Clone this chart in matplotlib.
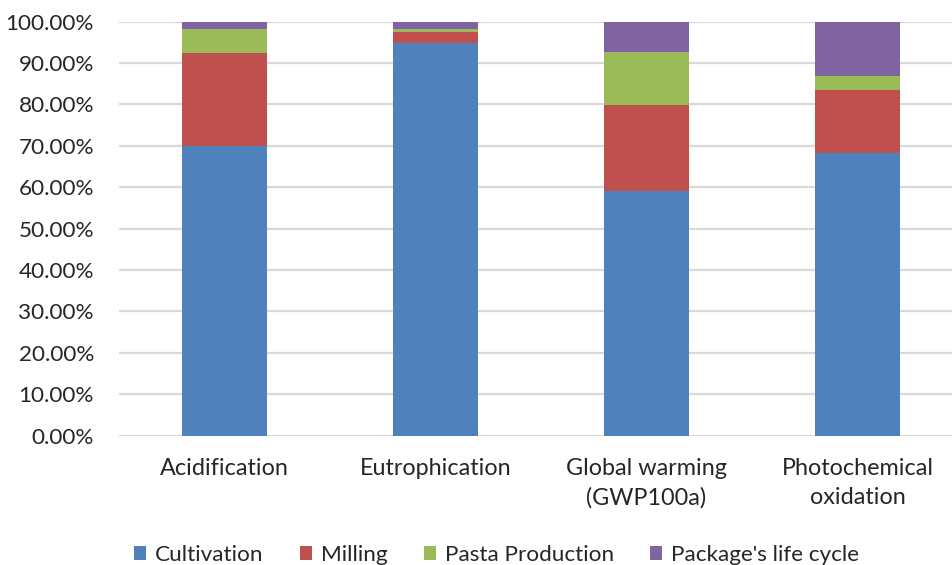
import matplotlib.pyplot as plt
import numpy as np

plt.rcParams["font.family"] = ["Lato", "DejaVu Sans"]

# ── data (share of total impact, %) ─────────────────────────
categories = ["Acidification", "Eutrophication", "Global warming\n(GWP100a)",
              "Photochemical\noxidation"]
cultivation = [70.0, 94.8, 59.0, 68.2]
milling     = [22.5, 2.6, 20.8, 15.3]
pasta       = [5.8, 0.9, 12.8, 3.3]
package     = [1.7, 1.7, 7.4, 13.2]

series = [("Cultivation", cultivation, "#4F81BD"),
          ("Milling", milling, "#C0504D"),
          ("Pasta Production", pasta, "#9BBB59"),
          ("Package's life cycle", package, "#8064A2")]

fig = plt.figure(figsize=(9.53, 5.65), dpi=100)
ax = fig.add_axes([119 / 953, 0.2292, 834 / 953, 0.7327])

x = np.arange(len(categories))
bottom = np.zeros(len(categories))
for name, vals, col in series:
    v = np.array(vals) / 100
    ax.bar(x, v, width=0.403, bottom=bottom, color=col, label=name, zorder=3)
    bottom += v

ax.set_xlim(-0.5, 3.453)
ax.set_ylim(0, 1.0)
ax.set_yticks(np.arange(0, 1.01, 0.1))
ax.yaxis.set_major_formatter(plt.FuncFormatter(lambda v, _: f"{v * 100:.2f}%"))
ax.set_xticks(x)
ax.set_xticklabels(categories, linespacing=1.5)

ax.grid(axis="y", color="#D9D9D9", linewidth=1.6, zorder=0)
for s in ax.spines.values():
    s.set_visible(False)
ax.tick_params(axis="both", length=0, colors="#262626")
ax.tick_params(axis="y", pad=18, labelsize=16.2)
ax.tick_params(axis="x", pad=16, labelsize=16.8)

fig.legend(loc="lower center", bbox_to_anchor=(0.521, -0.036), ncol=4, frameon=False,
           fontsize=16.2, handlelength=0.55, handleheight=0.55, handletextpad=0.4,
           columnspacing=1.6, labelcolor="#262626")

plt.savefig("out.png", dpi=100)
